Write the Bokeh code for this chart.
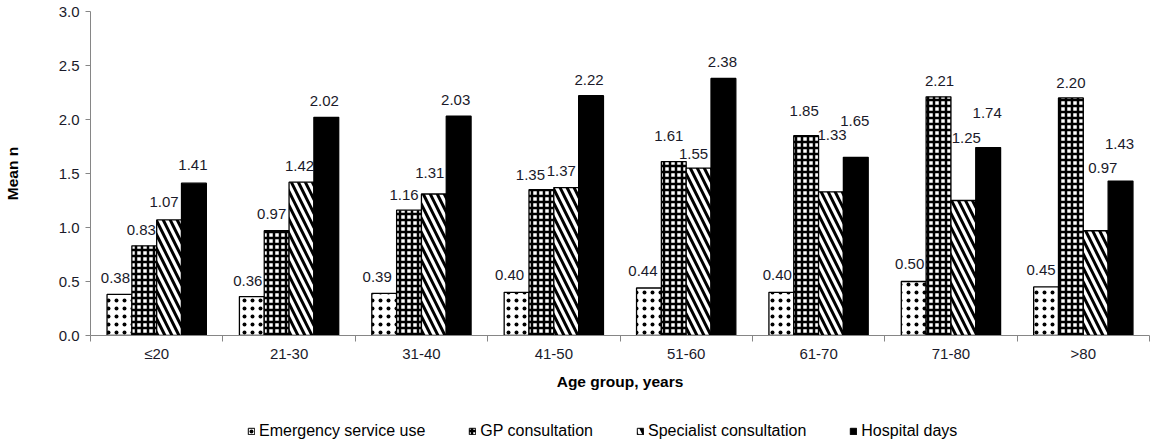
from bokeh.plotting import figure
from bokeh.layouts import column
from bokeh.models import (ColumnDataSource, FixedTicker, PrintfTickFormatter,
                          Legend, LegendItem)
from bokeh.transform import dodge
from bokeh.core.properties import value
from bokeh.embed import file_html
from bokeh.resources import INLINE

# ---------------- data ----------------
age_groups = ["≤20", "21-30", "31-40", "41-50", "51-60", "61-70", "71-80", ">80"]
series_names = ["Emergency service use", "GP consultation",
                "Specialist consultation", "Hospital days"]
emergency = [0.38, 0.36, 0.39, 0.40, 0.44, 0.40, 0.50, 0.45]
gp = [0.83, 0.97, 1.16, 1.35, 1.61, 1.85, 2.21, 2.20]
specialist = [1.07, 1.42, 1.31, 1.37, 1.55, 1.33, 1.25, 0.97]
hospital = [1.41, 2.02, 2.03, 2.22, 2.38, 1.65, 1.74, 1.43]
y_ticks = [0.0, 0.5, 1.0, 1.5, 2.0, 2.5, 3.0]

# ---------------- label nudges (style, screen px) ----------------
label_dy = [
    [16, 16, 18, 18],
    [16, 17, 16, 16],
    [16, 15, 21, 16],
    [17, 15, 17, 16],
    [17, 26, 14, 16],
    [17, 25, 57, 36],
    [18, 16, 63, 35],
    [17, 15, 63, 37],
]
label_dx = [
    [-4, -3, -5, -1],
    [-4, -5, -2, -2],
    [-7, -5, -4, -3],
    [-7, -11, -5, -2],
    [-6, -5, -5, -1],
    [-4, -2, 1, -1],
    [-4, 1, 3, -1],
    [-5, 0, 7, -1],
]

FONT = "Liberation Sans"
TXT = "#1a1a2a"
AXIS_GRAY = "#868686"
BAR_W = 0.1875
offsets = [-1.5 * BAR_W, -0.5 * BAR_W, 0.5 * BAR_W, 1.5 * BAR_W]

centers = [i + 0.5 for i in range(len(age_groups))]
series_vals = [emergency, gp, specialist, hospital]

styles = [
    dict(fill_color="white", hatch_pattern="dot", hatch_scale=8, hatch_weight=1.1,
         hatch_color="black"),
    dict(fill_color="white", hatch_pattern="cross", hatch_scale=6, hatch_weight=2.5,
         hatch_color="black"),
    dict(fill_color="white", hatch_pattern="left_diagonal_line", hatch_scale=14,
         hatch_weight=3, hatch_color="black"),
    dict(fill_color="black"),
]

p = figure(width=1150, height=400, x_range=(0, len(age_groups)), y_range=(0, 3),
           output_backend="svg", toolbar_location=None,
           min_border_left=86, min_border_right=1, min_border_top=11,
           min_border_bottom=65)
p.outline_line_color = None
p.xgrid.grid_line_color = None
p.ygrid.grid_line_color = None

for k, vals in enumerate(series_vals):
    src = ColumnDataSource(dict(
        x=centers, top=vals,
        label=["%.2f" % v for v in vals],
        dx=[label_dx[g][k] for g in range(len(vals))],
        dy=[-label_dy[g][k] for g in range(len(vals))],
    ))
    p.vbar(x=dodge("x", offsets[k]), top="top", width=BAR_W, source=src,
           line_color="black", line_width=1.3, **styles[k])
    p.text(x=dodge("x", offsets[k]), y="top", text="label", source=src,
           x_offset="dx", y_offset="dy",
           text_align="center", text_baseline="middle",
           text_font=value(FONT), text_font_size="15px", text_color=TXT)

# y axis
ya = p.yaxis[0]
ya.ticker = FixedTicker(ticks=y_ticks)
ya.formatter = PrintfTickFormatter(format="%.1f")
ya.axis_line_color = AXIS_GRAY
ya.major_tick_line_color = AXIS_GRAY
ya.major_tick_in = 0
ya.major_tick_out = 5
ya.minor_tick_line_color = None
ya.major_label_text_font = FONT
ya.major_label_text_font_size = "15px"
ya.major_label_text_color = TXT
ya.major_label_standoff = 6
ya.axis_label = "Mean n"
ya.axis_label_text_font = FONT
ya.axis_label_text_font_style = "bold"
ya.axis_label_text_font_size = "15.5px"
ya.axis_label_text_color = "black"
ya.axis_label_standoff = 35

# x axis
xa = p.xaxis[0]
xa.ticker = FixedTicker(ticks=centers, minor_ticks=list(range(len(age_groups) + 1)))
xa.major_label_overrides = {c: g for c, g in zip(centers, age_groups)}
xa.axis_line_color = AXIS_GRAY
xa.major_tick_line_color = None
xa.minor_tick_line_color = AXIS_GRAY
xa.minor_tick_in = 0
xa.minor_tick_out = 6
xa.major_label_text_font = FONT
xa.major_label_text_font_size = "15px"
xa.major_label_text_color = TXT
xa.major_label_standoff = 3
xa.axis_label = "Age group, years"
xa.axis_label_text_font = FONT
xa.axis_label_text_font_style = "bold"
xa.axis_label_text_font_size = "15.5px"
xa.axis_label_text_color = "black"
xa.axis_label_standoff = 8

# ---------------- legend strip ----------------
# the key renderers hold the same series but sit outside this strip's view,
# so only their legend swatches are visible
lg = figure(width=1150, height=39, x_range=(0, len(age_groups)), y_range=(10, 11),
            output_backend="svg", toolbar_location=None,
            x_axis_location=None, y_axis_location=None,
            min_border=0)
lg.outline_line_color = None
lg.xgrid.grid_line_color = None
lg.ygrid.grid_line_color = None
items = []
for k, (name, vals) in enumerate(zip(series_names, series_vals)):
    key = lg.vbar(x=centers, top=vals, width=BAR_W, line_color="black",
                  line_width=1.0, **styles[k])
    items.append(LegendItem(label=name, renderers=[key]))
legend = Legend(items=items, orientation="horizontal", location=(157, -1),
                spacing=43, label_standoff=4, glyph_width=8, glyph_height=8,
                label_height=16, padding=0, margin=0,
                label_text_font=FONT, label_text_font_size="16px",
                label_text_color="black", border_line_color=None,
                background_fill_alpha=0)
lg.add_layout(legend)

layout = column(p, lg, spacing=0)
open("out.html", "w").write(file_html(layout, INLINE))
